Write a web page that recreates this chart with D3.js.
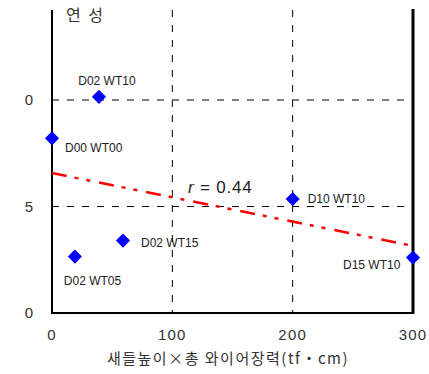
<!DOCTYPE html>
<html>
<head>
<meta charset="utf-8">
<script src="https://cdn.jsdelivr.net/npm/d3@7"></script>
<style>
  html, body { margin: 0; padding: 0; background: #fff; }
  svg { display: block; }
  text { font-family: "Liberation Sans", Arial, sans-serif; }
  .kr { font-family: "Noto Sans CJK KR", "Noto Sans", sans-serif; }
</style>
</head>
<body>
<svg id="chart" width="429" height="374"></svg>
<script>
// Specimen labels and their (x, y) values
const labels = ["D02 WT10", "D00 WT00", "D10 WT10", "D02 WT15", "D02 WT05", "D15 WT10"];
const xValues = [39, 0, 200, 59, 19, 300];
const yValues = [10.15, 8.2, 5.35, 3.4, 2.65, 2.6];

// Regression line end points
const fitX = [0, 300];
const fitY = [6.57, 3.15];
const rText = "0.44";

// Axis ticks
const xTicks = [0, 100, 200, 300];
const xTickLabels = ["0", "100", "200", "300"];
const yTicks = [0, 5, 10];
const yTickLabels = ["0", "5", "0"];

const xTitle = "새들높이×총 와이어장력(tf・cm)";
const panelTitle = "연 성";

const svg = d3.select("#chart");
const plotLeft = 52, plotRight = 413, plotTop = 10, plotBottom = 313;

const x = d3.scaleLinear().domain([0, 300]).range([plotLeft, plotRight]);
const y = d3.scaleLinear().domain([0, 10]).range([plotBottom, 100]);

// dashed grid
const grid = svg.append("g").attr("stroke", "#000").attr("stroke-width", 1)
  .attr("stroke-dasharray", "7,8");
grid.selectAll("line.v").data(xTicks.filter(d => d > 0 && d < 300)).join("line")
  .attr("class", "v")
  .attr("x1", d => x(d)).attr("x2", d => x(d))
  .attr("y1", plotTop).attr("y2", plotBottom);
grid.selectAll("line.h").data(yTicks.filter(d => d > 0)).join("line")
  .attr("class", "h")
  .attr("x1", plotLeft).attr("x2", plotRight)
  .attr("y1", d => y(d)).attr("y2", d => y(d));

// frame
svg.append("line").attr("x1", plotLeft).attr("x2", plotLeft).attr("y1", plotTop).attr("y2", plotBottom + 1)
  .attr("stroke", "#000").attr("stroke-width", 2);
svg.append("line").attr("x1", plotRight).attr("x2", plotRight).attr("y1", plotTop - 1).attr("y2", plotBottom + 1)
  .attr("stroke", "#000").attr("stroke-width", 3);
svg.append("line").attr("x1", plotLeft - 1).attr("x2", plotRight).attr("y1", plotBottom).attr("y2", plotBottom)
  .attr("stroke", "#000").attr("stroke-width", 2);

// tick labels
svg.append("g").selectAll("text").data(xTicks).join("text")
  .attr("x", d => x(d)).attr("y", plotBottom + 27)
  .attr("text-anchor", "middle").attr("font-size", 15).attr("letter-spacing", 1.2)
  .attr("fill", "#333")
  .text((d, i) => xTickLabels[i]);
svg.append("g").selectAll("text").data(yTicks).join("text")
  .attr("x", 33).attr("y", d => y(d) + 5)
  .attr("text-anchor", "end").attr("font-size", 15).attr("fill", "#333")
  .text((d, i) => yTickLabels[i]);

// regression line
svg.append("line")
  .attr("x1", x(fitX[0])).attr("y1", y(fitY[0]))
  .attr("x2", x(fitX[1])).attr("y2", y(fitY[1]))
  .attr("stroke", "#ff0000").attr("stroke-width", 2.5)
  .attr("stroke-dasharray", "15,8,4,8,4,9");

// points
const pts = xValues.map((d, i) => ({ x: d, y: yValues[i], label: labels[i] }));
svg.append("g").selectAll("path").data(pts).join("path")
  .attr("transform", d => `translate(${x(d.x)},${y(d.y)}) rotate(45)`)
  .attr("d", d3.symbol().type(d3.symbolSquare).size(100))
  .attr("fill", "#0000ff");

// point labels
const labelOffsets = [
  { dx: 8, dy: -12, anchor: "middle" },
  { dx: 13, dy: 14, anchor: "start" },
  { dx: 15, dy: 4, anchor: "start" },
  { dx: 18, dy: 6, anchor: "start" },
  { dx: -11, dy: 28, anchor: "start" },
  { dx: -70, dy: 11, anchor: "start" }
];
svg.append("g").selectAll("text").data(pts).join("text")
  .attr("x", (d, i) => x(d.x) + labelOffsets[i].dx)
  .attr("y", (d, i) => y(d.y) + labelOffsets[i].dy)
  .attr("text-anchor", (d, i) => labelOffsets[i].anchor)
  .attr("font-size", 12).attr("fill", "#222")
  .text(d => d.label);

// correlation label
const rt = svg.append("text").attr("x", 188).attr("y", 193)
  .attr("font-size", 17).attr("letter-spacing", 0.8).attr("fill", "#222");
rt.append("tspan").attr("font-style", "italic").text("r");
rt.append("tspan").text(" = " + rText);

// titles
svg.append("text").attr("class", "kr").attr("x", 66).attr("y", 21)
  .attr("font-size", 16).attr("letter-spacing", 2).attr("fill", "#333")
  .text(panelTitle);
svg.append("text").attr("class", "kr").attr("x", 228).attr("y", 364)
  .attr("text-anchor", "middle").attr("font-size", 15).attr("letter-spacing", 1.5)
  .attr("fill", "#333")
  .text(xTitle);
</script>
</body>
</html>
